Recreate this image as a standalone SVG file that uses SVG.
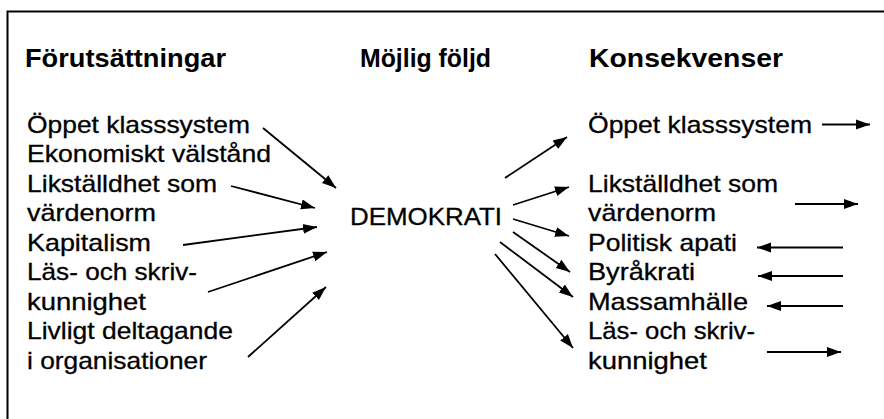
<svg xmlns="http://www.w3.org/2000/svg" width="884" height="419" viewBox="0 0 884 419">
<style>
  .h { font-family: "Liberation Sans", Arial, sans-serif; font-weight: bold; font-size: 25px; fill: #000; }
  .t { font-family: "Liberation Sans", Arial, sans-serif; font-size: 24px; fill: #000; stroke: #000; stroke-width: 0.3; }
  .c line { stroke: #000; stroke-width: 1.8; fill: none; marker-end: url(#ah); }
  .frame { stroke: #000; stroke-width: 2; fill: none; }
</style>
<defs>
  <marker id="ah" markerUnits="userSpaceOnUse" markerWidth="16" markerHeight="12" refX="14" refY="6" orient="auto">
    <path d="M0,1 L14,6 L0,11 z" fill="#000"/>
  </marker>
</defs>
<rect width="884" height="419" fill="#fff"/>
<path class="frame" d="M7.5,419 L7.5,11.5 L884,11.5"/>

<g id="headings">
  <text class="h" x="25" y="67" textLength="201" lengthAdjust="spacingAndGlyphs">Förutsättningar</text>
  <text class="h" x="360" y="67" textLength="131" lengthAdjust="spacingAndGlyphs">Möjlig följd</text>
  <text class="h" x="589" y="67" textLength="194" lengthAdjust="spacingAndGlyphs">Konsekvenser</text>
</g>

<g id="pre-oppet"><text class="t" x="27" y="132.5" textLength="223" lengthAdjust="spacingAndGlyphs">Öppet klasssystem</text></g>
<g id="pre-ekonomi"><text class="t" x="27" y="162" textLength="244" lengthAdjust="spacingAndGlyphs">Ekonomiskt välstånd</text></g>
<g id="pre-likstalldhet">
  <text class="t" x="27" y="191.5" textLength="190" lengthAdjust="spacingAndGlyphs">Likställdhet som</text>
  <text class="t" x="27" y="221" textLength="129" lengthAdjust="spacingAndGlyphs">värdenorm</text>
</g>
<g id="pre-kapitalism"><text class="t" x="27" y="250.5" textLength="124" lengthAdjust="spacingAndGlyphs">Kapitalism</text></g>
<g id="pre-las">
  <text class="t" x="27" y="280" textLength="170" lengthAdjust="spacingAndGlyphs">Läs- och skriv-</text>
  <text class="t" x="27" y="309.5" textLength="119" lengthAdjust="spacingAndGlyphs">kunnighet</text>
</g>
<g id="pre-livligt">
  <text class="t" x="27" y="339" textLength="206" lengthAdjust="spacingAndGlyphs">Livligt deltagande</text>
  <text class="t" x="27" y="368.5" textLength="180" lengthAdjust="spacingAndGlyphs">i organisationer</text>
</g>

<g id="demokrati"><text class="t" x="350" y="225" textLength="152" lengthAdjust="spacingAndGlyphs">DEMOKRATI</text></g>

<g id="kon-oppet"><text class="t" x="588" y="132.5" textLength="224" lengthAdjust="spacingAndGlyphs">Öppet klasssystem</text></g>
<g id="kon-likstalldhet">
  <text class="t" x="588" y="191.5" textLength="190" lengthAdjust="spacingAndGlyphs">Likställdhet som</text>
  <text class="t" x="588" y="221" textLength="128" lengthAdjust="spacingAndGlyphs">värdenorm</text>
</g>
<g id="kon-politisk"><text class="t" x="588" y="250.5" textLength="149" lengthAdjust="spacingAndGlyphs">Politisk apati</text></g>
<g id="kon-byrakrati"><text class="t" x="588" y="280" textLength="107" lengthAdjust="spacingAndGlyphs">Byråkrati</text></g>
<g id="kon-massamhalle"><text class="t" x="588" y="309.5" textLength="160" lengthAdjust="spacingAndGlyphs">Massamhälle</text></g>
<g id="kon-las">
  <text class="t" x="588" y="339" textLength="167" lengthAdjust="spacingAndGlyphs">Läs- och skriv-</text>
  <text class="t" x="588" y="368.5" textLength="119" lengthAdjust="spacingAndGlyphs">kunnighet</text>
</g>

<g id="connectors" class="c">
  <line x1="263" y1="128" x2="336" y2="188"/>
  <line x1="231" y1="186" x2="315" y2="208"/>
  <line x1="183" y1="245" x2="317" y2="227"/>
  <line x1="208" y1="292" x2="327" y2="252"/>
  <line x1="248" y1="357" x2="326" y2="287"/>

  <line x1="505" y1="178" x2="567" y2="137"/>
  <line x1="513" y1="205" x2="569" y2="187"/>
  <line x1="513" y1="219" x2="569" y2="236"/>
  <line x1="513" y1="232" x2="570" y2="272"/>
  <line x1="500" y1="242" x2="573" y2="297"/>
  <line x1="495" y1="254" x2="573" y2="348"/>

  <line x1="822" y1="124.5" x2="870" y2="124.5"/>
  <line x1="795" y1="204" x2="858" y2="204"/>
  <line x1="843" y1="247.5" x2="757" y2="247.5"/>
  <line x1="843" y1="276" x2="758" y2="276"/>
  <line x1="843" y1="306" x2="767" y2="306"/>
  <line x1="767" y1="352" x2="841" y2="352"/>
</g>
</svg>
